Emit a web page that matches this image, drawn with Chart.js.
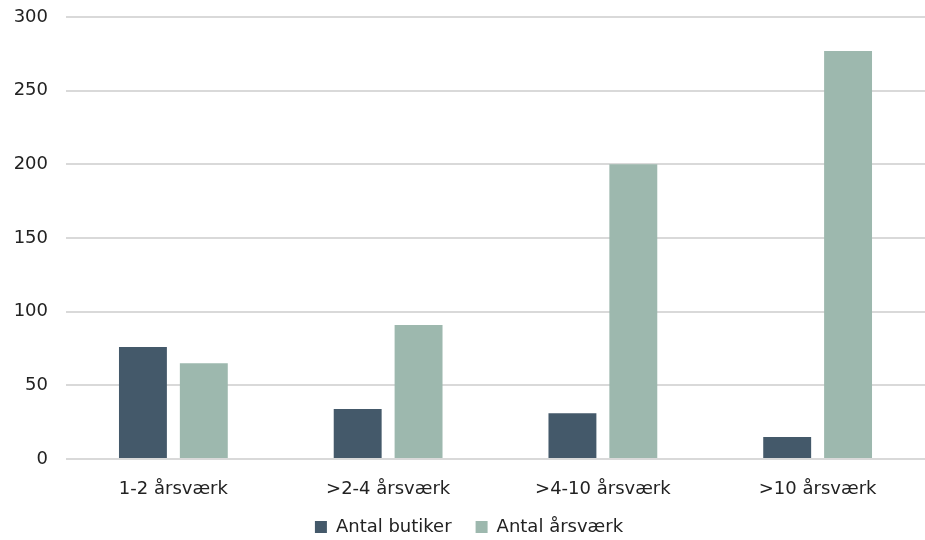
<!DOCTYPE html>
<html>
<head>
<meta charset="utf-8">
<script src="https://cdn.jsdelivr.net/npm/chart.js@4"></script>
<style>
  html, body { margin: 0; padding: 0; background: #fff; }
  #wrap { width: 925px; height: 540px; }
</style>
</head>
<body>
<div id="wrap"><canvas id="chart"></canvas></div>
<script>
var categories = ['1-2 årsværk', '>2-4 årsværk', '>4-10 årsværk', '>10 årsværk'];
var antalButiker = [76, 34, 31, 15];
var antalAarsvaerk = [65, 91, 200, 277];
var yTicks = [0, 50, 100, 150, 200, 250, 300];

var ctx = document.getElementById('chart').getContext('2d');
var chart = new Chart(ctx, {
    type: 'bar',
    data: {
        labels: categories,
        datasets: [{
            label: 'Antal butiker',
            data: antalButiker,
            backgroundColor: '#44596a'
        }, {
            label: 'Antal årsværk',
            data: antalAarsvaerk,
            backgroundColor: '#9db8ae'
        }]
    },
    options: {
        responsive: true,
        maintainAspectRatio: false,
        animation: false,
        categoryPercentage: 0.567,
        barPercentage: 0.787,
        layout: { padding: { left: 13, right: 0, top: 17, bottom: -6 } },
        plugins: {
            legend: {
                position: 'bottom',
                labels: {
                    boxWidth: 12,
                    boxHeight: 12,
                    padding: 24,
                    color: '#222',
                    font: { family: 'DejaVu Sans', size: 18 }
                }
            },
            tooltip: { enabled: false }
        },
        scales: {
            x: {
                grid: { display: false },
                border: { display: false },
                afterFit: function (axis) { axis.height = 35; },
                ticks: {
                    color: '#222',
                    padding: 12,
                    font: { family: 'DejaVu Sans', size: 18 }
                }
            },
            y: {
                min: 0,
                max: 300,
                afterBuildTicks: function (axis) {
                    axis.ticks = yTicks.map(function (v) { return { value: v }; });
                },
                afterFit: function (axis) {
                    axis.width = 53;
                    axis.paddingTop = 0;
                    axis.paddingBottom = 0;
                },
                grid: { color: '#d9d9d9', lineWidth: 2, drawTicks: false },
                border: { display: false },
                ticks: {
                    color: '#222',
                    padding: 18,
                    font: { family: 'DejaVu Sans', size: 18 }
                }
            }
        }
    }
});
</script>
</body>
</html>
